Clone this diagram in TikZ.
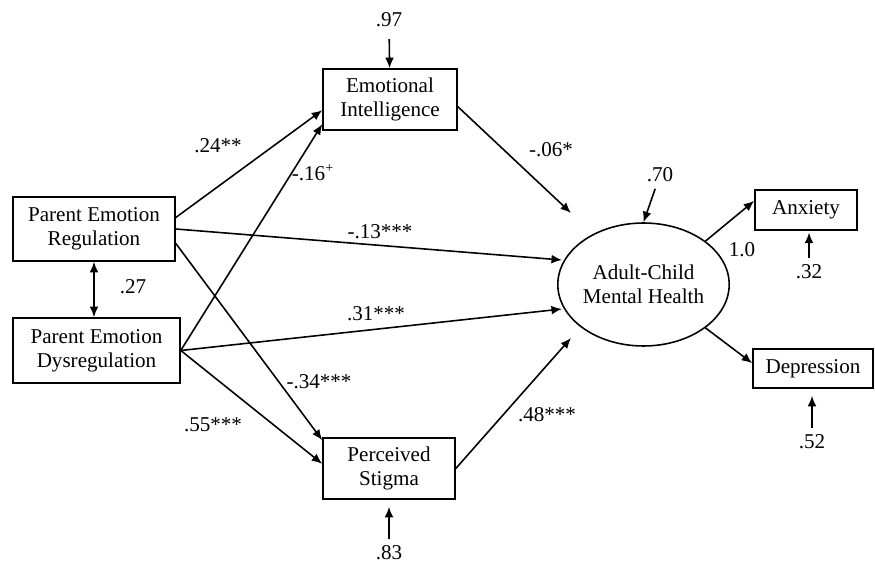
\documentclass[tikz,border=0pt]{standalone}
\usepackage{fontspec}
\setmainfont{Liberation Serif}
\usetikzlibrary{arrows.meta,shapes,shapes.geometric}

\begin{document}
\begin{tikzpicture}[x=0.02cm,y=-0.02cm,>={Latex[length=6pt,width=5pt]},line width=0.9pt,
  font=\fontsize{12}{13.5}\selectfont,
  var/.style={draw,rectangle,align=center,inner sep=1pt}]
\useasboundingbox (0,0) rectangle (875,563);
\node[var,minimum width=2.68cm,minimum height=1.22cm] (ei) at (390,99.5) {Emotional\\Intelligence};
\node[var,minimum width=3.24cm,minimum height=1.28cm] (per) at (94,229) {Parent Emotion\\Regulation};
\node[var,minimum width=3.34cm,minimum height=1.30cm] (ped) at (96.5,350.5) {Parent Emotion\\Dysregulation};
\node[var,minimum width=2.64cm,minimum height=1.22cm] (ps) at (389,468.5) {Perceived\\Stigma};
\node[ellipse,draw,minimum width=2.9cm,minimum height=2.46cm,inner sep=0pt,align=center] (mh) at (643.5,284.5) {Adult-Child\\Mental Health};
\node[var,minimum width=2.04cm,minimum height=0.8cm] (anx) at (806,210) {Anxiety};
\node[var,minimum width=2.4cm,minimum height=0.78cm] (dep) at (813,368.5) {Depression};
%
\node (r97) at (389,20) {.97};
\node (r70) at (660,175) {.70};
\node (r32) at (809,272) {.32};
\node (r52) at (812,442) {.52};
\node (r83) at (389,553) {.83};
%
\coordinate (m1) at (571,213);
\coordinate (m2) at (562,260);
\coordinate (m3) at (562,309);
\coordinate (m4) at (571,338);
%%
\draw[->] (per.8) -- (ei.189);
\draw[->] (ped.east) -- (ei.200);
\draw[->] (per.east) -- (m2);
\draw[->] (per.-10) -- (ps.157);
\draw[->] (ped.east) -- (m3);
\draw[->] (ped.east) -- (ps.176);
\draw[->] (ei.-6) -- (m1);
\draw[->] (ps.east) -- (m4);
\draw[<->] (per.south) -- (per.south |- ped.north);
\draw[->] (mh.35) -- (anx.170);
\draw[->] (mh.-35) -- (dep.175);
\draw[->,shorten <=3pt] (r97) -- (ei);
\draw[->] (r70) -- (mh.north);
\draw[->,shorten >=1pt] (r32) -- (r32 |- anx.south);
\draw[->,shorten >=4pt] (r52) -- (r52 |- dep.south);
\draw[->,shorten >=4pt] (r83) -- (ps);
%%
\node (l24) at (218,146) {.24**};
\node (l16) at (313,173) {-.16\textsuperscript{+}};
\node (l06) at (551,150) {-.06*};
\node (l13) at (380,232) {-.13***};
\node (l31) at (376,314) {.31***};
\node (l34) at (319,382) {-.34***};
\node (l55) at (213,425) {.55***};
\node (l48) at (547,415) {.48***};
\node (l27) at (133,287) {.27};
\node (l10) at (742,250) {1.0};
\end{tikzpicture}
\end{document}
